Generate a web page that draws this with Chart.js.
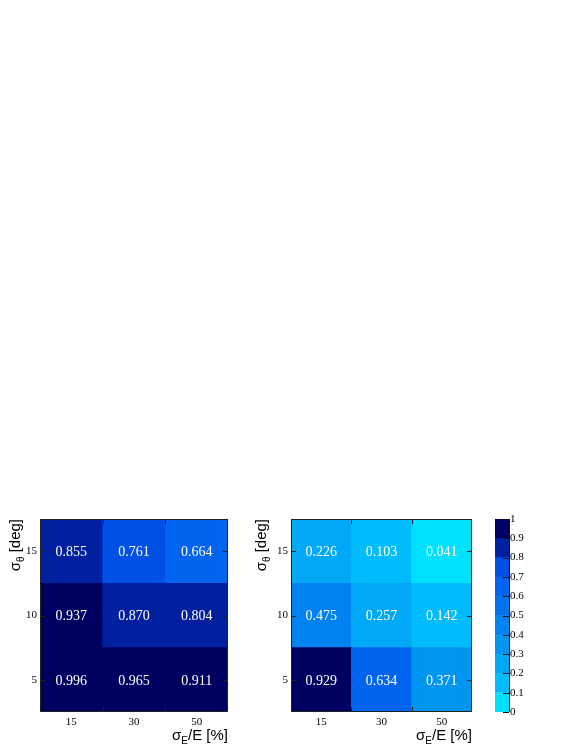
<!DOCTYPE html>
<html>
<head>
<meta charset="utf-8">
<script src="https://cdn.jsdelivr.net/npm/chart.js@4"></script>
<style>
  html, body { margin: 0; padding: 0; background: #fff; }
  body { width: 581px; height: 752px; position: relative; overflow: hidden; }
  .box { position: absolute; }
</style>
</head>
<body>
<div class="box" style="left:0;top:505px;width:240px;height:247px"><canvas id="left_heatmap"></canvas></div>
<div class="box" style="left:250px;top:505px;width:230px;height:247px"><canvas id="right_heatmap"></canvas></div>
<div class="box" style="left:485px;top:505px;width:96px;height:247px"><canvas id="palette_bar"></canvas></div>
<script>
// axis categories
const sigmaE = ['15', '30', '50'];        // sigma_E/E [%]
const sigmaTheta = ['5', '10', '15'];     // sigma_theta [deg], bottom to top

// left panel, one array per sigma_theta row
const leftRow5 = [0.996, 0.965, 0.911];
const leftRow10 = [0.937, 0.870, 0.804];
const leftRow15 = [0.855, 0.761, 0.664];

// right panel
const rightRow5 = [0.929, 0.634, 0.371];
const rightRow10 = [0.475, 0.257, 0.142];
const rightRow15 = [0.226, 0.103, 0.041];

// colour palette levels 0 .. 1
const levels = [0, 0.1, 0.2, 0.3, 0.4, 0.5, 0.6, 0.7, 0.8, 0.9, 1];
const palette = ['#00e0ff', '#00bcfc', '#00a8f6', '#0096f0', '#0082f0',
                 '#0072ee', '#0064ee', '#0050e6', '#0020a0', '#000060'];

function paletteColor(v) {
  return palette[Math.min(palette.length - 1, Math.floor(v * 10))];
}

const serif = '"Liberation Serif", "DejaVu Serif", serif';
const sans = '"Liberation Sans", Arial, sans-serif';

// text like  σ_sub rest  , right aligned at x
function drawSubText(ctx, main, sub, rest, x, y) {
  ctx.font = '15px ' + sans;
  const w1 = ctx.measureText(main).width;
  const w3 = ctx.measureText(rest).width;
  ctx.font = '10px ' + sans;
  const w2 = ctx.measureText(sub).width;
  let x0 = x - (w1 + w2 + w3);
  ctx.fillStyle = '#000';
  ctx.textAlign = 'left';
  ctx.textBaseline = 'alphabetic';
  ctx.font = '15px ' + sans;
  ctx.fillText(main, x0, y);
  ctx.font = '10px ' + sans;
  ctx.fillText(sub, x0 + w1, y + 4);
  ctx.font = '15px ' + sans;
  ctx.fillText(rest, x0 + w1 + w2, y);
}

// frame, inner ticks, cell values and axis titles
const heatmapDecor = {
  id: 'heatmapDecor',
  afterDatasetsDraw(chart, args, opts) {
    const ctx = chart.ctx;
    const a = chart.chartArea;
    const xs = chart.scales.x, ys = chart.scales.y;
    ctx.save();

    // values in the cells
    ctx.fillStyle = '#fff';
    ctx.font = '14px ' + serif;
    ctx.textAlign = 'center';
    ctx.textBaseline = 'middle';
    chart.data.datasets.forEach((ds, i) => {
      chart.getDatasetMeta(i).data.forEach((bar, j) => {
        ctx.fillText(ds.values[j].toFixed(3), bar.x, (bar.y + bar.base) / 2 + 1);
      });
    });

    // frame
    ctx.strokeStyle = '#222';
    ctx.lineWidth = 1;
    ctx.strokeRect(a.left + 0.5, a.top + 0.5, a.right - a.left - 1, a.bottom - a.top - 1);

    // ticks on the bin edges (x) and centres (y), pointing inside
    ctx.beginPath();
    for (let j = 0; j < sigmaE.length - 1; j++) {
      const px = Math.round((xs.getPixelForTick(j) + xs.getPixelForTick(j + 1)) / 2) + 0.5;
      ctx.moveTo(px, a.top); ctx.lineTo(px, a.top + 5);
      ctx.moveTo(px, a.bottom); ctx.lineTo(px, a.bottom - 5);
    }
    ys.ticks.forEach(t => {
      const py = Math.round(ys.getPixelForValue(t.value)) + 0.5;
      ctx.moveTo(a.left, py); ctx.lineTo(a.left + 5, py);
      ctx.moveTo(a.right, py); ctx.lineTo(a.right - 5, py);
    });
    ctx.stroke();

    // x title
    drawSubText(ctx, 'σ', 'E', '/E [%]', a.right, a.bottom + 28);

    // y title, rotated
    ctx.translate(opts.yTitleX, a.top);
    ctx.rotate(-Math.PI / 2);
    drawSubText(ctx, 'σ', 'θ', ' [deg]', 0, 0);

    ctx.restore();
  }
};

function heatmap(id, rows, padRight, yWidth, yTitleX) {
  const datasets = sigmaTheta.map((lab, i) => ({
    label: lab,
    data: sigmaE.map(() => [i, i + 1]),
    values: rows[i],
    backgroundColor: rows[i].map(paletteColor),
    borderWidth: 0,
    grouped: false,
    barPercentage: 1,
    categoryPercentage: 1
  }));

  new Chart(document.getElementById(id).getContext('2d'), {
    type: 'bar',
    data: { labels: sigmaE, datasets: datasets },
    options: {
      responsive: true,
      maintainAspectRatio: false,
      animation: false,
      layout: { padding: { top: 14, right: padRight, left: 0, bottom: 0 } },
      plugins: {
        legend: { display: false },
        tooltip: { enabled: false },
        heatmapDecor: { yTitleX: yTitleX }
      },
      scales: {
        x: {
          grid: { display: false, drawTicks: false },
          border: { display: false },
          ticks: { color: '#000', padding: 4, font: { family: serif, size: 11 } },
          afterFit: s => { s.height = 40; }
        },
        y: {
          type: 'linear',
          min: 0,
          max: sigmaTheta.length,
          afterBuildTicks: s => { s.ticks = sigmaTheta.map((_, i) => ({ value: i + 0.5 })); },
          grid: { display: false, drawTicks: false },
          border: { display: false },
          ticks: {
            color: '#000', padding: 3, font: { family: serif, size: 11 },
            callback: (v, i) => sigmaTheta[i]
          },
          afterFit: s => { s.width = yWidth; }
        }
      }
    },
    plugins: [heatmapDecor]
  });
}

// colour scale at the right
function palette_bar() {
  const datasets = palette.map((c, k) => ({
    data: [[levels[k], levels[k + 1]]],
    backgroundColor: c,
    borderWidth: 0,
    grouped: false,
    barPercentage: 1,
    categoryPercentage: 1
  }));

  const barTicks = {
    id: 'barTicks',
    afterDatasetsDraw(chart) {
      const ctx = chart.ctx, a = chart.chartArea, ys = chart.scales.y;
      ctx.save();
      ctx.strokeStyle = '#111';
      ctx.lineWidth = 1;
      ctx.beginPath();
      ctx.moveTo(a.right + 0.5, a.top); ctx.lineTo(a.right + 0.5, a.bottom);
      ys.ticks.forEach(t => {
        const py = Math.round(ys.getPixelForValue(t.value)) + 0.5;
        ctx.moveTo(a.right, py); ctx.lineTo(a.right - 6, py);
      });
      ctx.stroke();
      ctx.restore();
    }
  };

  new Chart(document.getElementById('palette_bar').getContext('2d'), {
    type: 'bar',
    data: { labels: ['z'], datasets: datasets },
    options: {
      responsive: true,
      maintainAspectRatio: false,
      animation: false,
      layout: { padding: { top: 14, left: 10, right: 0, bottom: 40 } },
      plugins: { legend: { display: false }, tooltip: { enabled: false } },
      scales: {
        x: { display: false },
        y: {
          position: 'right',
          min: 0,
          max: 1,
          grid: { display: false, drawTicks: false },
          border: { display: false },
          ticks: {
            stepSize: 0.1, color: '#000', padding: 1,
            font: { family: serif, size: 11 },
            callback: v => String(Number(v.toFixed(1)))
          },
          afterFit: s => { s.width = 72; }
        }
      }
    },
    plugins: [barTicks]
  });
}

heatmap('left_heatmap', [leftRow5, leftRow10, leftRow15], 12, 40, 20);
heatmap('right_heatmap', [rightRow5, rightRow10, rightRow15], 8, 41, 16);
palette_bar();
</script>
</body>
</html>
